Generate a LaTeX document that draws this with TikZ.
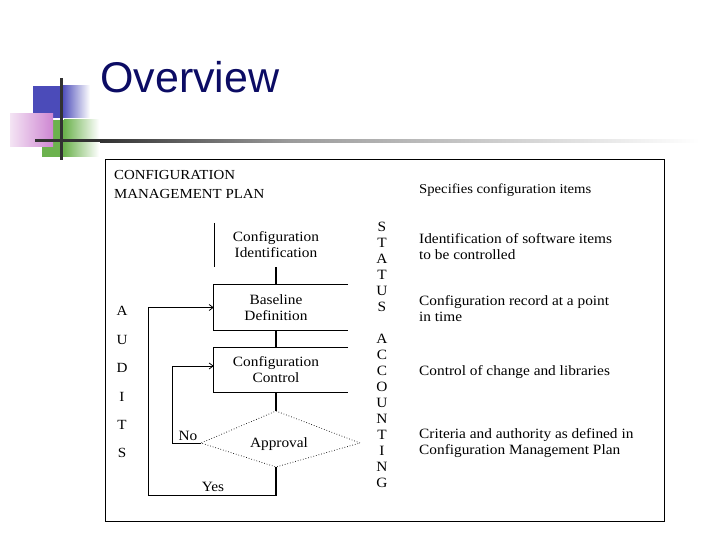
\documentclass[tikz,border=0pt]{standalone}
\usepackage{fontspec}
\setmainfont{Liberation Serif}[FakeStretch=1.08]
\newfontfamily\titlefont{Liberation Sans}
\usetikzlibrary{arrows.meta,calc}
\definecolor{navy}{RGB}{12,12,100}
\definecolor{decoblue}{RGB}{75,75,185}
\definecolor{decogreen}{RGB}{108,178,78}
\definecolor{decopinkL}{RGB}{244,228,244}
\definecolor{decopinkR}{RGB}{206,134,210}
\definecolor{decodark}{RGB}{50,50,50}
\definecolor{decogray}{RGB}{155,155,155}
\tikzset{
  txt/.style={inner sep=0pt, font=\fontsize{14.2}{16}\selectfont, align=left},
  boxtxt/.style={inner sep=0pt, font=\fontsize{14.2}{16}\selectfont, align=center},
  thinline/.style={line width=0.8pt, black},
  thickline/.style={line width=2.4pt, black},
  arr/.style={line width=0.8pt, black, -{Straight Barb[length=4pt,width=6pt]}},
  dotline/.style={line width=0.7pt, black, dotted},
}
\begin{document}
\begin{tikzpicture}[x=1pt,y=-1pt]
\useasboundingbox (0,0) rectangle (720,540);
% decoration
\fill[decoblue] (33,86) rectangle (62,118);
\shade[left color=decoblue, right color=white] (62,86) rectangle (90,118);
\fill[decogreen] (42,120) rectangle (64,157);
\shade[left color=decogreen, right color=white] (64,120) rectangle (99,157);
\shade[left color=decopinkL, right color=decopinkR] (10,114) rectangle (53,147);
\fill[decodark] (35,139.5) rectangle (100,142.5);
\shade[left color=decodark, right color=decogray] (100,139.5) rectangle (290,142.5);
\shade[left color=decogray, right color=white] (290,139.5) rectangle (700,142.5);
\fill[decodark] (59.5,78) rectangle (62.5,160);
% title
\node[anchor=base west, inner sep=0pt, text=navy, font=\titlefont\fontsize{43}{48}\selectfont] (title) at (100,93) {Overview};
% frame
\draw[line width=0.9pt] (105,159) rectangle (664,521);
% texts
\node[txt, anchor=north west, font=\fontsize{13.8}{19}\selectfont] (cmp) at (114,170.5) {CONFIGURATION\\MANAGEMENT PLAN};
\node[txt, anchor=north west, font=\fontsize{13.6}{16}\selectfont] (r1) at (419,183.5) {Specifies configuration items};
\node[txt, anchor=north west] (r2) at (419,233.5) {Identification of software items\\to be controlled};
\node[txt, anchor=north west] (r3) at (419,295.5) {Configuration record at a point\\in time};
\node[txt, anchor=north west] (r4) at (419,365.5) {Control of change and libraries};
\node[txt, anchor=north west] (r5) at (419,428.5) {Criteria and authority as defined in\\Configuration Management Plan};
\node[boxtxt, anchor=north] (status) at (382,222.3) {S\\T\\A\\T\\U\\S\\[16pt]A\\C\\C\\O\\U\\N\\T\\I\\N\\G};
\node[boxtxt, anchor=north, font=\fontsize{14}{28.4}\selectfont] (audits) at (122,306.4) {A\\U\\D\\I\\T\\S};
% flow nodes
\node[boxtxt, minimum width=122pt, minimum height=44pt] (ident) at (276,245) {Configuration\\Identification};
\node[boxtxt, minimum width=124pt, minimum height=45pt] (base) at (276,307.5) {Baseline\\Definition};
\node[boxtxt, minimum width=124pt, minimum height=44pt] (ctrl) at (276,370) {Configuration\\Control};
\draw[thinline] (ident.north west) -- (ident.south west);
\draw[thinline] ([xshift=10pt]base.north east) -- (base.north west) -- (base.south west) -- ([xshift=10pt]base.south east);
\draw[thinline] ([xshift=10pt]ctrl.north east) -- (ctrl.north west) -- (ctrl.south west) -- ([xshift=10pt]ctrl.south east);
% diamond
\coordinate (dtop) at (276,411);
\coordinate (dright) at (360,443);
\coordinate (dbot) at (276,467);
\coordinate (dleft) at (201,443);
\draw[dotline] (dtop) -- (dright) -- (dbot) -- (dleft) -- cycle;
\node[boxtxt, anchor=base] (appr) at (279,447) {Approval};
% connectors
\draw[thickline] (ident.south) -- (base.north);
\draw[thickline] (base.south) -- (ctrl.north);
\draw[thickline] (ctrl.south) -- (dtop);
\coordinate (ycorner) at (276,495);
\coordinate (yl) at (148,495);
\coordinate (nl) at (172,443);
\draw[thickline] (dbot) -- ([yshift=-1.2pt]ycorner);
\draw[arr] (ycorner) -- (yl) |- (base.west);
\draw[arr] (dleft) -- (nl) |- ([yshift=4pt]ctrl.west);
\node[boxtxt, anchor=base] (no) at (188,440) {No};
\node[boxtxt, anchor=base] (yes) at (213,491) {Yes};
\end{tikzpicture}
\end{document}
